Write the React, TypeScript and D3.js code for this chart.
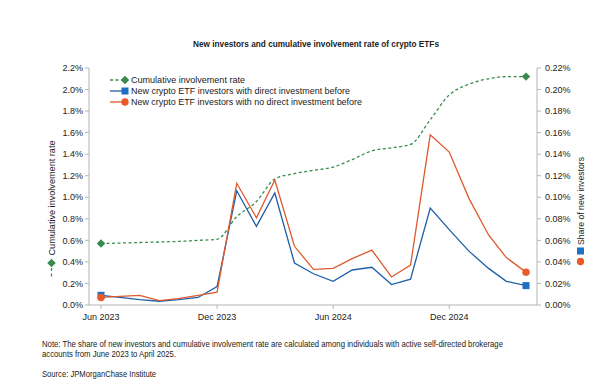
import { useEffect, useRef } from "react";
import * as d3 from "d3";

// monthly points, Jun 2023 .. Apr 2025
const MONTHS = [
  "2023-06", "2023-07", "2023-08", "2023-09", "2023-10", "2023-11", "2023-12",
  "2024-01", "2024-02", "2024-03", "2024-04", "2024-05", "2024-06", "2024-07",
  "2024-08", "2024-09", "2024-10", "2024-11", "2024-12", "2025-01", "2025-02",
  "2025-03", "2025-04",
];
// left axis, %
const CUMULATIVE = [
  0.57, 0.575, 0.58, 0.585, 0.59, 0.60, 0.61, 0.82, 0.96, 1.17, 1.22, 1.25,
  1.28, 1.35, 1.43, 1.46, 1.49, 1.72, 1.95, 2.05, 2.10, 2.12, 2.12,
];
// right axis, %
const WITH_DIRECT = [
  0.009, 0.007, 0.005, 0.0035, 0.005, 0.007, 0.017, 0.106, 0.073, 0.104, 0.039,
  0.029, 0.022, 0.0325, 0.035, 0.019, 0.024, 0.090, 0.070, 0.050, 0.034, 0.022,
  0.018,
];
const NO_DIRECT = [
  0.007, 0.008, 0.009, 0.004, 0.006, 0.009, 0.012, 0.113, 0.081, 0.116, 0.0545,
  0.033, 0.034, 0.043, 0.051, 0.026, 0.037, 0.158, 0.142, 0.099, 0.065, 0.044,
  0.0305,
];
const LEFT_TICKS = [0, 0.2, 0.4, 0.6, 0.8, 1.0, 1.2, 1.4, 1.6, 1.8, 2.0, 2.2];
const RIGHT_TICKS = [0, 0.02, 0.04, 0.06, 0.08, 0.1, 0.12, 0.14, 0.16, 0.18, 0.2, 0.22];
const X_TICKS = ["2023-06", "2023-12", "2024-06", "2024-12"];

const GREEN = "#3a8a4c";
const BLUE = "#1d5ea6";
const BLUE_MARK = "#1f6fc4";
const ORANGE = "#dd5a2e";
const ORANGE_MARK = "#ea5a28";
const TEXT = "#222";
const AXIS = "#b5b5b5";
const FONT = "'Liberation Sans', Arial, sans-serif";

export default function App() {
  const ref = useRef<SVGSVGElement>(null);

  useEffect(() => {
    if (!ref.current) return;
    const svg = d3.select(ref.current);
    svg.selectAll("*").remove();

    const left = 89, right = 537, top = 68, bottom = 305;
    const parse = d3.timeParse("%Y-%m");
    const dates = MONTHS.map((m) => parse(m) as Date);

    const x = d3.scaleTime()
      .domain([dates[0], dates[dates.length - 1]])
      .range([101, 526]);
    const yL = d3.scaleLinear().domain([0, 2.2]).range([bottom, top]);
    const yR = d3.scaleLinear().domain([0, 0.22]).range([bottom, top]);

    // title
    svg.append("text")
      .attr("x", 316).attr("y", 47)
      .attr("text-anchor", "middle")
      .attr("font-family", FONT).attr("font-size", 9.5).attr("font-weight", 600)
      .attr("fill", TEXT)
      .attr("textLength", 246).attr("lengthAdjust", "spacingAndGlyphs")
      .text("New investors and cumulative involvement rate of crypto ETFs");

    // axes lines
    const ax = svg.append("g").attr("stroke", AXIS).attr("stroke-width", 1);
    ax.append("line").attr("x1", left).attr("x2", left).attr("y1", top).attr("y2", bottom);
    ax.append("line").attr("x1", right).attr("x2", right).attr("y1", top).attr("y2", bottom);
    ax.append("line").attr("x1", left).attr("x2", right).attr("y1", bottom).attr("y2", bottom);

    LEFT_TICKS.forEach((t) => {
      const y = yL(t);
      ax.append("line").attr("x1", left - 4).attr("x2", left).attr("y1", y).attr("y2", y);
      svg.append("text")
        .attr("x", left - 6).attr("y", y + 3.2)
        .attr("text-anchor", "end")
        .attr("font-family", FONT).attr("font-size", 9).attr("fill", TEXT)
        .text(`${t.toFixed(1)}%`);
    });
    RIGHT_TICKS.forEach((t) => {
      const y = yR(t);
      ax.append("line").attr("x1", right).attr("x2", right + 4).attr("y1", y).attr("y2", y);
      svg.append("text")
        .attr("x", right + 8).attr("y", y + 3.2)
        .attr("font-family", FONT).attr("font-size", 9).attr("fill", TEXT)
        .text(`${t.toFixed(2)}%`);
    });
    const fmt = d3.timeFormat("%b %Y");
    X_TICKS.forEach((m) => {
      const xx = x(parse(m) as Date);
      ax.append("line").attr("x1", xx).attr("x2", xx).attr("y1", bottom).attr("y2", bottom + 4);
      svg.append("text")
        .attr("x", xx).attr("y", 320)
        .attr("text-anchor", "middle")
        .attr("font-family", FONT).attr("font-size", 9).attr("fill", TEXT)
        .text(fmt(parse(m) as Date));
    });

    // series
    const cumLine = d3.line<number>()
      .x((_, i) => x(dates[i]))
      .y((d) => yL(d))
      .curve(d3.curveMonotoneX);
    const rLine = d3.line<number>()
      .x((_, i) => x(dates[i]))
      .y((d) => yR(d));

    svg.append("path").attr("d", cumLine(CUMULATIVE))
      .attr("fill", "none").attr("stroke", GREEN).attr("stroke-width", 1.3)
      .attr("stroke-dasharray", "3,2.5");
    svg.append("path").attr("d", rLine(WITH_DIRECT))
      .attr("fill", "none").attr("stroke", BLUE).attr("stroke-width", 1.3);
    svg.append("path").attr("d", rLine(NO_DIRECT))
      .attr("fill", "none").attr("stroke", ORANGE).attr("stroke-width", 1.3);

    const diamond = (g: any, cx: number, cy: number) =>
      g.append("rect").attr("x", cx - 3).attr("y", cy - 3).attr("width", 6).attr("height", 6)
        .attr("fill", GREEN).attr("transform", `rotate(45, ${cx}, ${cy})`);
    const square = (g: any, cx: number, cy: number) =>
      g.append("rect").attr("x", cx - 3.5).attr("y", cy - 3.5).attr("width", 7).attr("height", 7)
        .attr("fill", BLUE_MARK);
    const circle = (g: any, cx: number, cy: number) =>
      g.append("circle").attr("cx", cx).attr("cy", cy).attr("r", 3.7).attr("fill", ORANGE_MARK);

    const last = dates.length - 1;
    [0, last].forEach((i) => {
      diamond(svg, x(dates[i]), yL(CUMULATIVE[i]));
      square(svg, x(dates[i]), yR(WITH_DIRECT[i]));
      circle(svg, x(dates[i]), yR(NO_DIRECT[i]));
    });

    // legend
    const legend = [
      { label: "Cumulative involvement rate", color: GREEN, mark: diamond, dash: "3,2.5", w: 114 },
      { label: "New crypto ETF investors with direct investment before", color: BLUE, mark: square, dash: null, w: 219 },
      { label: "New crypto ETF investors with no direct investment before", color: ORANGE, mark: circle, dash: null, w: 231 },
    ];
    legend.forEach((l, i) => {
      const y = 80 + i * 11;
      svg.append("line").attr("x1", 110).attr("x2", 123).attr("y1", y).attr("y2", y)
        .attr("stroke", l.color).attr("stroke-width", 1.3)
        .attr("stroke-dasharray", l.dash);
      l.mark(svg, 125, y);
      svg.append("text")
        .attr("x", 131).attr("y", y + 3.3)
        .attr("font-family", FONT).attr("font-size", 9).attr("fill", TEXT)
        .attr("textLength", l.w).attr("lengthAdjust", "spacingAndGlyphs")
        .text(l.label);
    });

    // left axis title
    svg.append("text")
      .attr("transform", "translate(55, 198) rotate(-90)")
      .attr("text-anchor", "middle")
      .attr("font-family", FONT).attr("font-size", 9.5).attr("fill", TEXT)
      .attr("textLength", 115).attr("lengthAdjust", "spacingAndGlyphs")
      .text("Cumulative involvement rate");
    diamond(svg, 51.5, 263);
    svg.append("line").attr("x1", 51.5).attr("x2", 51.5).attr("y1", 268).attr("y2", 278)
      .attr("stroke", GREEN).attr("stroke-width", 1.3).attr("stroke-dasharray", "3,2.5");

    // right axis title
    svg.append("text")
      .attr("transform", "translate(584, 201) rotate(-90)")
      .attr("text-anchor", "middle")
      .attr("font-family", FONT).attr("font-size", 9.5).attr("fill", TEXT)
      .attr("textLength", 88).attr("lengthAdjust", "spacingAndGlyphs")
      .text("Share of new investors");
    square(svg, 580.5, 251);
    circle(svg, 580.5, 261.5);

    // notes
    const notes = [
      { t: "Note: The share of new investors and cumulative involvement rate are calculated among individuals with active self-directed brokerage", y: 347, w: 461 },
      { t: "accounts from June 2023 to April 2025.", y: 357, w: 134 },
      { t: "Source: JPMorganChase Institute", y: 376.5, w: 114 },
    ];
    notes.forEach((n) => {
      svg.append("text")
        .attr("x", 42).attr("y", n.y)
        .attr("font-family", FONT).attr("font-size", 8.7).attr("fill", TEXT)
        .attr("textLength", n.w).attr("lengthAdjust", "spacingAndGlyphs")
        .text(n.t);
    });
  }, []);

  return (
    <svg
      ref={ref}
      width={600}
      height={387}
      style={{ position: "absolute", left: 0, top: 0, background: "#fff" }}
    />
  );
}
